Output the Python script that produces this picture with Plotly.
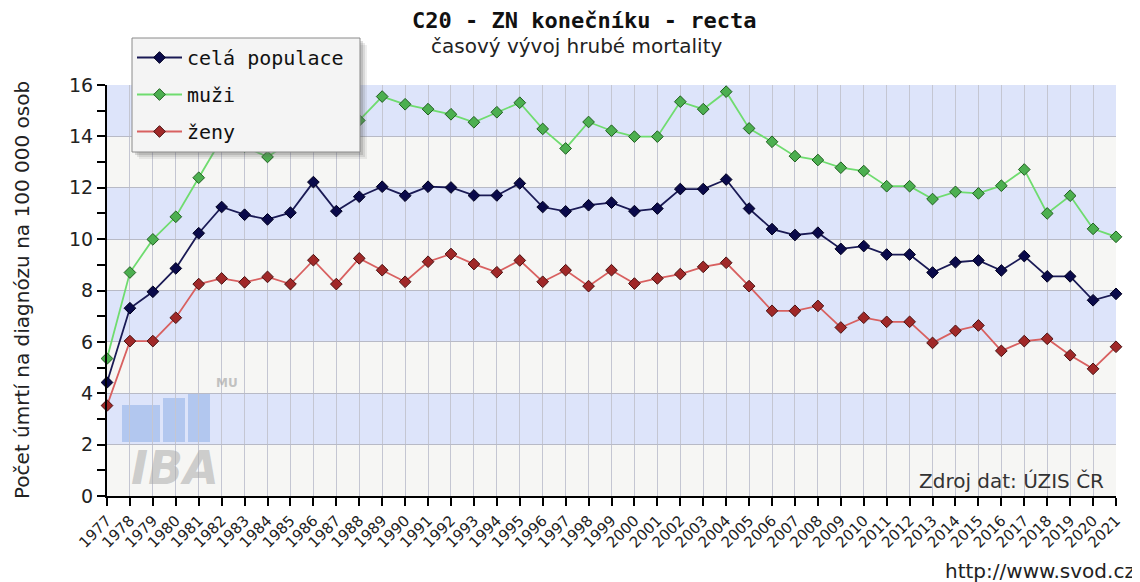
import plotly.graph_objects as go

years = list(range(1977, 2022))

cela_populace = [4.42, 7.31, 7.95, 8.86, 10.23, 11.25, 10.95, 10.77, 11.03, 12.22, 11.09, 11.65,
                 12.04, 11.69, 12.04, 12.01, 11.70, 11.70, 12.17, 11.25, 11.08, 11.32, 11.42,
                 11.09, 11.19, 11.95, 11.95, 12.32, 11.19, 10.39, 10.16, 10.25, 9.62, 9.73,
                 9.40, 9.40, 8.70, 9.10, 9.17, 8.78, 9.34, 8.55, 8.55, 7.62, 7.87]

muzi = [5.35, 8.70, 9.99, 10.87, 12.39, 13.9, 13.6, 13.2, 13.8, 14.5, 13.7, 14.62,
        15.55, 15.25, 15.06, 14.86, 14.55, 14.94, 15.31, 14.29, 13.53, 14.56, 14.22,
        13.99, 13.99, 15.35, 15.06, 15.74, 14.31, 13.79, 13.23, 13.08, 12.78, 12.65,
        12.06, 12.06, 11.56, 11.84, 11.78, 12.08, 12.71, 11.00, 11.69, 10.40, 10.09]

zeny = [3.52, 6.03, 6.03, 6.94, 8.25, 8.47, 8.32, 8.53, 8.25, 9.18, 8.25, 9.25,
        8.79, 8.34, 9.12, 9.42, 9.03, 8.71, 9.17, 8.34, 8.79, 8.17, 8.79,
        8.27, 8.47, 8.64, 8.92, 9.08, 8.17, 7.21, 7.21, 7.40, 6.56, 6.94,
        6.78, 6.78, 5.96, 6.43, 6.64, 5.65, 6.03, 6.12, 5.48, 4.95, 5.81]

series_names = ["celá populace", "muži", "ženy"]
y_ticks = [0, 2, 4, 6, 8, 10, 12, 14, 16]

title_text = "C20 - ZN konečníku - recta"
subtitle_text = "časový vývoj hrubé mortality"
y_title = "Počet úmrtí na diagnózu na 100 000 osob"
source_text = "Zdroj dat: ÚZIS ČR"
url_text = "http://www.svod.cz"

styles = [
    dict(line="#1a1a55", fill="#0a0a4a", edge="#000020", group="a"),
    dict(line="#6fdc6f", fill="#4caf50", edge="#1f5f1f", group="b"),
    dict(line="#d86060", fill="#a02828", edge="#4a1010", group="c"),
]

fig = go.Figure()
for name, vals, st in zip(series_names, [cela_populace, muzi, zeny], styles):
    fig.add_trace(go.Scatter(
        x=years, y=vals, name=name, mode="lines+markers",
        line=dict(color=st["line"], width=1.8),
        marker=dict(symbol="diamond", size=9, color=st["fill"],
                    line=dict(color=st["edge"], width=1)),
        legendgroup=st["group"], cliponaxis=False,
    ))

# page has an 8px body margin, compensate so the plot area lands at page px 107..1116 / 85..496
OFF = 8
W0, W1 = 107, 1116
H0, H1 = 85, 496
def px(x):
    return (x - W0) / (W1 - W0)
def py(y):
    return (H1 - y) / (H1 - H0)

shapes = []
for lo in range(2, 16, 4):
    shapes.append(dict(type="rect", xref="paper", yref="y", x0=0, x1=1, y0=lo, y1=lo + 2,
                       fillcolor="#dde4fa", line=dict(width=0), layer="below"))

# legend box with soft shadow
for d, a in [(7, 0.10), (5, 0.14), (3, 0.20)]:
    shapes.append(dict(type="rect", xref="paper", yref="paper",
                       x0=px(132 + d), x1=px(360 + d), y0=py(152 + d), y1=py(38 + d),
                       fillcolor=f"rgba(90,90,90,{a})", line=dict(width=0), layer="above"))
shapes.append(dict(type="rect", xref="paper", yref="paper",
                   x0=px(132), x1=px(360), y0=py(152), y1=py(38),
                   fillcolor="#f4f4f4", line=dict(color="#8a8a8a", width=1), layer="above"))

# IBA watermark blocks
for (x0, x1, y0, y1) in [(122, 160, 405, 442), (163, 185, 398, 442), (188, 210, 394, 442)]:
    shapes.append(dict(type="rect", xref="paper", yref="paper",
                       x0=px(x0), x1=px(x1), y0=py(y1), y1=py(y0),
                       fillcolor="rgba(120,160,225,0.42)", line=dict(width=0), layer="below"))

annotations = [
    dict(text=title_text, x=px(584), y=py(20), xref="paper", yref="paper", showarrow=False,
         font=dict(family="DejaVu Sans Mono", size=22, color="#111111", weight="bold"),
         xanchor="center", yanchor="middle"),
    dict(text=subtitle_text, x=px(577), y=py(46), xref="paper", yref="paper", showarrow=False,
         font=dict(family="DejaVu Sans", size=20, color="#222222"),
         xanchor="center", yanchor="middle"),
    dict(text=y_title, x=px(22), y=py(290), xref="paper", yref="paper", showarrow=False,
         textangle=-90, font=dict(family="DejaVu Sans", size=20, color="#222222"),
         xanchor="center", yanchor="middle"),
    dict(text=source_text, x=px(1106), y=py(481), xref="paper", yref="paper", showarrow=False,
         font=dict(family="DejaVu Sans", size=20, color="#333333"),
         xanchor="right", yanchor="middle"),
    dict(text=url_text, x=px(1137), y=py(571), xref="paper", yref="paper", showarrow=False,
         font=dict(family="DejaVu Sans", size=20, color="#222222"),
         xanchor="right", yanchor="middle"),
    dict(text="IBA", x=px(175), y=py(468), xref="paper", yref="paper", showarrow=False,
         font=dict(family="DejaVu Sans", size=46, color="rgba(170,170,170,0.55)",
                   weight="bold", style="italic"),
         xanchor="center", yanchor="middle"),
    dict(text="MU", x=px(227), y=py(383), xref="paper", yref="paper", showarrow=False,
         font=dict(family="DejaVu Sans", size=12, color="rgba(170,170,170,0.7)", weight="bold"),
         xanchor="center", yanchor="middle"),
]

fig.update_layout(
    width=1140 - OFF, height=582 - OFF,
    margin=dict(l=W0 - OFF, r=1140 - W1, t=H0 - OFF, b=582 - H1, autoexpand=False),
    paper_bgcolor="white", plot_bgcolor="#f6f6f4",
    shapes=shapes, annotations=annotations,
    showlegend=True,
    legend=dict(x=px(132), y=py(38), xanchor="left", yanchor="top",
                bgcolor="rgba(0,0,0,0)", borderwidth=0,
                font=dict(family="DejaVu Sans Mono", size=20, color="#111111"),
                tracegroupgap=8, itemwidth=45,
                traceorder="grouped"),
    xaxis=dict(range=[1977, 2021], tickmode="array", tickvals=years,
               ticktext=[str(y) for y in years], tickangle=-45,
               tickfont=dict(family="DejaVu Sans", size=15, color="#222222"),
               showgrid=True, gridcolor="#c4c6d2", gridwidth=1,
               showline=True, linecolor="#000000", linewidth=2,
               ticks="outside", ticklen=8, tickcolor="#000000", tickwidth=1.5,
               zeroline=False, fixedrange=True),
    yaxis=dict(range=[0, 16], tickvals=y_ticks,
               tickfont=dict(family="DejaVu Sans", size=19, color="#222222"),
               showgrid=True, gridcolor="#b8bac6", gridwidth=1,
               showline=True, linecolor="#000000", linewidth=2,
               ticks="outside", ticklen=8, tickcolor="#000000", tickwidth=1.5,
               minor=dict(dtick=1, ticks="outside", ticklen=8, tickcolor="#000000", showgrid=False),
               zeroline=False, fixedrange=True),
)

fig.write_html("out.html")
